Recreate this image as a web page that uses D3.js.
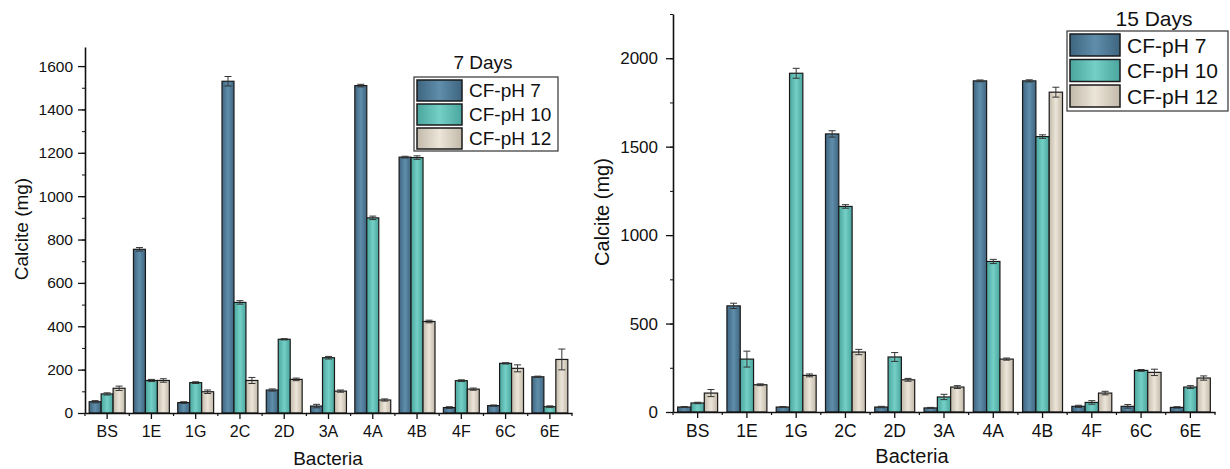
<!DOCTYPE html>
<html>
<head>
  <meta charset="utf-8">
  <style>
    body { margin: 0; background: #fff; }
    svg text { font-family: Arial, "Liberation Sans", sans-serif; fill: #111; }
    .axis path, .axis line { stroke: #111; }
  </style>
  <script src="https://d3js.org/d3.v7.min.js"></script>
</head>
<body>
  <svg width="1230" height="469"></svg>
  <script>
    // categories and series
    var bacteria = ["BS", "1E", "1G", "2C", "2D", "3A", "4A", "4B", "4F", "6C", "6E"];
    var seriesNames = ["CF-pH 7", "CF-pH 10", "CF-pH 12"];

    // 7 days
    var d7_ph7  = [52, 755, 48, 1530, 106, 32, 1510, 1180, 25, 34, 167];
    var d7_ph10 = [88, 150, 140, 510, 340, 255, 900, 1178, 149, 229, 29];
    var d7_ph12 = [114, 150, 98, 150, 155, 101, 60, 422, 110, 206, 247];
    var e7_ph7  = [5, 8, 4, 22, 5, 8, 6, 4, 4, 3, 3];
    var e7_ph10 = [5, 5, 4, 8, 3, 6, 8, 8, 4, 3, 4];
    var e7_ph12 = [10, 8, 8, 14, 6, 5, 5, 6, 5, 16, 48];

    // 15 days
    var d15_ph7  = [28, 600, 28, 1572, 28, 23, 1872, 1872, 32, 32, 26];
    var d15_ph10 = [51, 299, 1915, 1162, 311, 85, 851, 1557, 54, 235, 141];
    var d15_ph12 = [107, 154, 207, 339, 182, 141, 299, 1808, 107, 224, 192];
    var e15_ph7  = [3, 15, 3, 18, 4, 3, 5, 6, 6, 10, 4];
    var e15_ph10 = [4, 45, 28, 10, 25, 15, 12, 10, 10, 5, 8];
    var e15_ph12 = [20, 5, 8, 15, 8, 8, 6, 28, 10, 18, 12];

    var yTicks7 = [0, 200, 400, 600, 800, 1000, 1200, 1400, 1600];
    var yTicks15 = [0, 500, 1000, 1500, 2000];

    var colors = [
      { edge: "#3f6580", mid: "#5f8eab" },
      { edge: "#4aa69e", mid: "#74d0c6" },
      { edge: "#c2b9a9", mid: "#ece5d9" }
    ];

    var svg = d3.select("svg");
    svg.append("rect").attr("width", 1230).attr("height", 469).attr("fill", "#fff");

    var defs = svg.append("defs");
    colors.forEach(function (c, i) {
      var g = defs.append("linearGradient").attr("id", "grad" + i)
        .attr("x1", "0").attr("x2", "1").attr("y1", "0").attr("y2", "0");
      g.append("stop").attr("offset", "0%").attr("stop-color", c.edge);
      g.append("stop").attr("offset", "50%").attr("stop-color", c.mid);
      g.append("stop").attr("offset", "100%").attr("stop-color", c.edge);
    });

    function drawChart(o) {
      var x0 = d3.scaleBand().domain(bacteria).range([o.left, o.right]);
      var x1 = d3.scaleBand().domain(seriesNames).range([0, x0.bandwidth()]).paddingOuter(0.35);
      var y = d3.scaleLinear().domain([0, o.ymax]).range([o.bottom, o.top]);

      var rows = bacteria.map(function (b, i) {
        return {
          cat: b,
          vals: seriesNames.map(function (s, k) {
            return { s: s, k: k, v: o.values[k][i], e: o.errors[k][i] };
          })
        };
      });

      var groups = svg.append("g").selectAll("g").data(rows).enter().append("g")
        .attr("transform", function (d) { return "translate(" + x0(d.cat) + ",0)"; });

      groups.selectAll("rect").data(function (d) { return d.vals; }).enter().append("rect")
        .attr("x", function (d) { return x1(d.s); })
        .attr("y", function (d) { return y(d.v); })
        .attr("width", x1.bandwidth())
        .attr("height", function (d) { return y(0) - y(d.v); })
        .attr("fill", function (d) { return "url(#grad" + d.k + ")"; })
        .attr("stroke", "#1a1a1a").attr("stroke-width", 1.2);

      // error bars
      var eb = groups.selectAll("g.err").data(function (d) { return d.vals; }).enter().append("g")
        .attr("class", "err").attr("stroke", "#333").attr("stroke-width", 1);
      var cx = function (d) { return x1(d.s) + x1.bandwidth() / 2; };
      eb.append("line")
        .attr("x1", cx).attr("x2", cx)
        .attr("y1", function (d) { return y(d.v - d.e); })
        .attr("y2", function (d) { return y(d.v + d.e); });
      eb.append("line")
        .attr("x1", function (d) { return cx(d) - 3.5; }).attr("x2", function (d) { return cx(d) + 3.5; })
        .attr("y1", function (d) { return y(d.v + d.e); })
        .attr("y2", function (d) { return y(d.v + d.e); });
      eb.append("line")
        .attr("x1", function (d) { return cx(d) - 3.5; }).attr("x2", function (d) { return cx(d) + 3.5; })
        .attr("y1", function (d) { return y(d.v - d.e); })
        .attr("y2", function (d) { return y(d.v - d.e); });

      // y axis, minor ticks then major
      svg.append("g").attr("class", "axis")
        .attr("transform", "translate(" + o.left + ",0)")
        .call(d3.axisLeft(y).tickValues(d3.range(0, o.ymax + 1, o.minor)).tickSize(3).tickFormat(""))
        .call(function (g) { g.select(".domain").remove(); });
      var ya = svg.append("g").attr("class", "axis")
        .attr("transform", "translate(" + o.left + ",0)")
        .call(d3.axisLeft(y).tickValues(o.yTicks).tickFormat(d3.format("d"))
          .tickSize(7).tickSizeOuter(0).tickPadding(o.yPad));
      ya.select(".domain").attr("stroke-width", 1.6);
      ya.selectAll("line").attr("stroke-width", 1.3);
      ya.selectAll("text").style("font-size", o.yFont + "px");

      // x axis
      var xa = svg.append("g").attr("class", "axis")
        .attr("transform", "translate(0," + o.bottom + ")")
        .call(d3.axisBottom(x0).tickSize(6).tickSizeOuter(0).tickPadding(o.xPad));
      xa.select(".domain").attr("stroke-width", 1.6);
      xa.selectAll("line").attr("stroke-width", 1.3);
      xa.selectAll("text").style("font-size", o.xFont + "px");
      svg.append("g").selectAll("line").data(bacteria.concat(["end"])).enter().append("line")
        .attr("x1", function (d, i) { return o.left + i * x0.step(); })
        .attr("x2", function (d, i) { return o.left + i * x0.step(); })
        .attr("y1", o.bottom).attr("y2", o.bottom + 3)
        .attr("stroke", "#111").attr("stroke-width", 1.2);

      // axis titles
      svg.append("text")
        .attr("transform", "translate(" + o.ylabX + "," + o.ylabY + ") rotate(-90)")
        .attr("text-anchor", "middle").style("font-size", o.labFont + "px")
        .text("Calcite (mg)");
      svg.append("text")
        .attr("x", o.xlabX).attr("y", o.xlabY)
        .attr("text-anchor", "middle").style("font-size", o.labFont + "px")
        .text("Bacteria");

      // legend
      var L = o.legend;
      svg.append("text").attr("x", L.titleX).attr("y", L.titleY)
        .attr("text-anchor", "middle").style("font-size", L.font + "px").text(o.title);
      svg.append("rect").attr("x", L.x).attr("y", L.y).attr("width", L.w).attr("height", L.h)
        .attr("fill", "#fff").attr("stroke", "#333").attr("stroke-width", 1.2);
      var items = svg.append("g").selectAll("g").data(seriesNames).enter().append("g")
        .attr("transform", function (d, i) { return "translate(" + (L.x + 3) + "," + (L.y + 3 + i * L.pitch) + ")"; });
      items.append("rect").attr("width", L.sw).attr("height", L.sh)
        .attr("fill", function (d, i) { return "url(#grad" + i + ")"; })
        .attr("stroke", "#1a1a1a").attr("stroke-width", 1.5);
      items.append("text").attr("x", L.sw + 7).attr("y", L.sh / 2)
        .attr("dy", "0.36em").style("font-size", L.font + "px").text(function (d) { return d; });
    }

    drawChart({
      left: 85, right: 572, top: 47, bottom: 413, ymax: 1688, minor: 100,
      yTicks: yTicks7, yFont: 15.5, xFont: 16, labFont: 19, yPad: 5, xPad: 7,
      values: [d7_ph7, d7_ph10, d7_ph12], errors: [e7_ph7, e7_ph10, e7_ph12],
      ylabX: 28, ylabY: 229, xlabX: 328, xlabY: 465,
      title: "7 Days",
      legend: { x: 414, y: 77, w: 144, h: 74, sw: 45, sh: 21, pitch: 24, font: 19, titleX: 483, titleY: 69 }
    });

    drawChart({
      left: 673, right: 1215, top: 14, bottom: 412, ymax: 2250, minor: 250,
      yTicks: yTicks15, yFont: 17, xFont: 17.5, labFont: 20, yPad: 8, xPad: 7,
      values: [d15_ph7, d15_ph10, d15_ph12], errors: [e15_ph7, e15_ph10, e15_ph12],
      ylabX: 609, ylabY: 212, xlabX: 912, xlabY: 463,
      title: "15 Days",
      legend: { x: 1067, y: 31, w: 161, h: 80, sw: 50, sh: 22, pitch: 25.5, font: 21, titleX: 1154, titleY: 26 }
    });
  </script>
</body>
</html>
